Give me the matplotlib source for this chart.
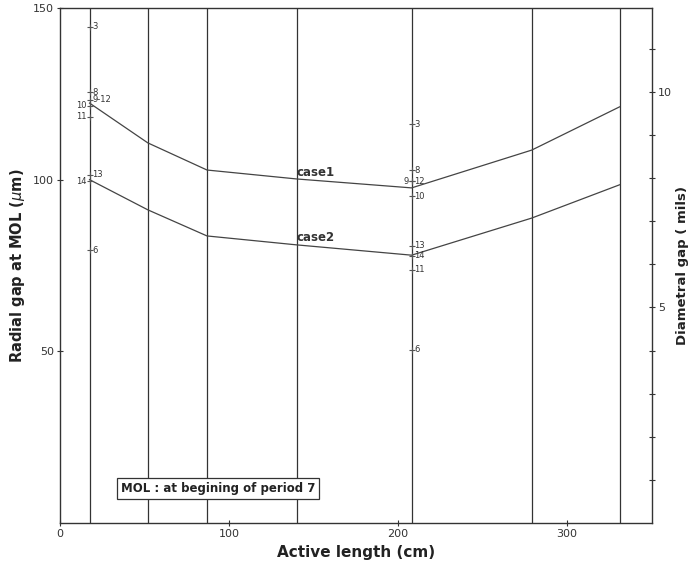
import numpy as np
import matplotlib.pyplot as plt

# axial stations (cm) where the gap was evaluated / grid lines
stations = [17.5, 52, 87, 140, 208, 279, 331]

# radial gap along the active length (um)
case1_gap = [122.3, 110.7, 102.8, 100.2, 97.6, 108.6, 121.2]
case2_gap = [100.0, 91.2, 83.6, 81.0, 78.0, 88.8, 98.5]

# measured points per pin, bottom station
low_x = 17.5
low_gap = [144.5, 125.5, 123.2, 121.5, 118.3, 101.4, 99.6, 79.5]
low_lab = ["3", "8", "9-12", "10", "11", "13", "14", "6"]
low_side = ["r", "r", "r", "l", "l", "r", "l", "r"]

# measured points per pin, upper station
up_x = 208
up_gap = [116.2, 102.8, 99.6, 99.6, 95.2, 80.7, 77.8, 73.7, 50.4]
up_lab = ["3", "8", "9", "12", "10", "13", "14", "11", "6"]
up_side = ["r", "r", "l", "r", "r", "r", "r", "r", "r"]

fig = plt.figure(figsize=(6.97, 5.70), dpi=100)
ax = fig.add_axes([0.086, 0.0825, 0.849, 0.9035])
ax.set_xlim(0, 350)
ax.set_ylim(0, 150)

for s in stations:
    ax.axvline(s, color="#333333", lw=0.9)

ax.plot(stations, case1_gap, color="#444444", lw=0.9)
ax.plot(stations, case2_gap, color="#444444", lw=0.9)
ax.text(140, 101.2, "case1", fontsize=8.5, fontweight="bold", color="#333333")
ax.text(140, 82.0, "case2", fontsize=8.5, fontweight="bold", color="#333333")

def mark_points(x0, gaps, labels, sides):
    for g, lab, sd in zip(gaps, labels, sides):
        ax.plot(x0, g, marker="+", ms=4, color="#555555", mew=0.8)
        if sd == "r":
            ax.text(x0 + 1.5, g, lab, fontsize=6, va="center", ha="left", color="#333333")
        else:
            ax.text(x0 - 1.5, g, lab, fontsize=6, va="center", ha="right", color="#333333")

mark_points(low_x, low_gap, low_lab, low_side)
mark_points(up_x, up_gap, up_lab, up_side)

ax.set_xticks([0, 100, 200, 300])
ax.set_yticks([50, 100, 150])
ax.tick_params(axis="both", labelsize=8, direction="inout", length=5, width=0.8,
               colors="#333333", pad=2)
ax.set_xlabel("Active length (cm)", fontsize=11, fontweight="bold", color="#222222")
ax.set_ylabel("Radial gap at MOL ($\\mu$m)", fontsize=10.5, fontweight="bold", color="#222222",
              labelpad=4)
for sp in ax.spines.values():
    sp.set_linewidth(1.0)
    sp.set_color("#333333")

# right axis: diametral gap in mils
ax2 = ax.twinx()
ax2.set_ylim(0, 11.95)
ax2.set_yticks(np.arange(1, 12))
ax2.set_yticklabels(["" if t not in (5, 10) else str(t) for t in range(1, 12)])
ax2.tick_params(axis="y", labelsize=8, direction="inout", length=5, width=0.8,
                colors="#333333", pad=2)
ax2.set_ylabel("Diametral gap ( mils)", fontsize=9.5, fontweight="bold", color="#222222",
               labelpad=3)
for sp in ax2.spines.values():
    sp.set_visible(False)

ax.text(36, 10, "MOL : at begining of period 7", fontsize=8.5, fontweight="bold",
        color="#222222", va="center",
        bbox=dict(boxstyle="square,pad=0.35", facecolor="white", edgecolor="#333333", lw=0.9))

fig.savefig("out.png", dpi=100)
